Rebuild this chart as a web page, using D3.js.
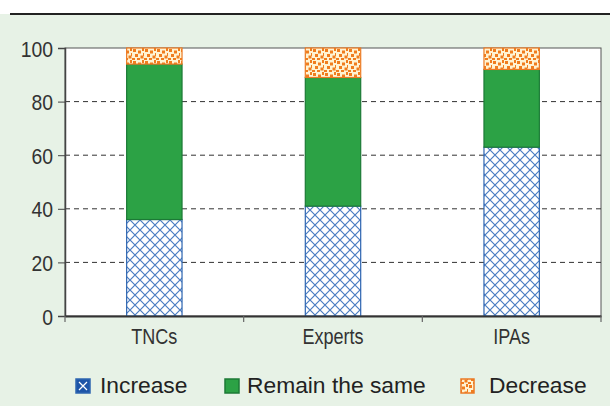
<!DOCTYPE html>
<html><head><meta charset="utf-8">
<script src="https://cdn.jsdelivr.net/npm/d3@7"></script>
<style>body{margin:0;background:#fff}svg{display:block}</style>
</head><body>
<script>
const categories = ["TNCs", "Experts", "IPAs"];
const seriesNames = ["Increase", "Remain the same", "Decrease"];
const increase = [36, 41, 63];
const remainSame = [58, 48, 29];
const decrease = [6, 11, 8];
const yTicks = [0, 20, 40, 60, 80, 100];

const W = 610, H = 406;
const regular = "'Liberation Sans', Arial, sans-serif";
const svg = d3.select("body").append("svg").attr("width", W).attr("height", H);
const defs = svg.append("defs");

// crosshatch pattern
const ph = defs.append("pattern").attr("id","hatch").attr("patternUnits","userSpaceOnUse")
  .attr("width",10).attr("height",10);
ph.append("rect").attr("width",10).attr("height",10).attr("fill","#fff");
ph.append("path").attr("d","M0,0L10,10M10,0L0,10").attr("stroke","#4a7cc2").attr("stroke-width",1.2).attr("fill","none");

// dotted orange pattern
const pd = defs.append("pattern").attr("id","dots").attr("patternUnits","userSpaceOnUse")
  .attr("width",12).attr("height",12);
pd.append("rect").attr("width",12).attr("height",12).attr("fill","#fff3d2");
[[1,1],[6,2.5],[10,0],[3,6],[8.5,7.5],[0,10],[11,5],[5,10]].forEach(([x,y])=>{
  pd.append("rect").attr("x",x).attr("y",y).attr("width",3).attr("height",3).attr("fill","#f07d1e");
});

// background
svg.append("rect").attr("x",0).attr("y",14).attr("width",W).attr("height",H-14).attr("fill","#e7f2e6");
svg.append("line").attr("x1",10).attr("x2",W).attr("y1",14).attr("y2",14).attr("stroke","#222").attr("stroke-width",2);

const m = {left:65, right:601, top:48, bottom:316};
const x = d3.scaleBand().domain(categories).range([m.left, m.right]).paddingInner(0.69).paddingOuter(0.345);
const y = d3.scaleLinear().domain([0,100]).range([m.bottom, m.top]);

svg.append("rect").attr("x",m.left).attr("y",m.top).attr("width",m.right-m.left).attr("height",m.bottom-m.top)
  .attr("fill","#fff").attr("stroke","#555").attr("stroke-width",1);

// gridlines
svg.append("g").selectAll("line").data(yTicks.filter(d=>d>0 && d<100)).join("line")
  .attr("x1",m.left).attr("x2",m.right).attr("y1",d=>y(d)).attr("y2",d=>y(d))
  .attr("stroke","#333").attr("stroke-dasharray","5,4").attr("stroke-width",1);

// bars
const data = categories.map((c,i)=>({cat:c, "Increase":increase[i], "Remain the same":remainSame[i], "Decrease":decrease[i]}));
const stack = d3.stack().keys(seriesNames)(data);
const fills = {"Increase":"url(#hatch)","Remain the same":"#2ca245","Decrease":"url(#dots)"};
const strokes = {"Increase":"#2e65b0","Remain the same":"#1c7a36","Decrease":"#ec7a24"};
stack.forEach(s=>{
  svg.append("g").selectAll("rect").data(s).join("rect")
    .attr("x",d=>x(d.data.cat)).attr("width",x.bandwidth())
    .attr("y",d=>y(d[1])).attr("height",d=>y(d[0])-y(d[1]))
    .attr("fill",fills[s.key]).attr("stroke",strokes[s.key]).attr("stroke-width",1.2);
});

function condense(sel, k){
  sel.each(function(){
    const w = this.getComputedTextLength();
    d3.select(this).attr("textLength", w*k).attr("lengthAdjust","spacingAndGlyphs");
  });
}

// axes
const ya = svg.append("g").attr("transform",`translate(${m.left},0)`)
  .call(d3.axisLeft(y).tickValues(yTicks).tickSize(7).tickPadding(5));
ya.select(".domain").attr("stroke","#444").attr("stroke-width",1.5);
ya.selectAll(".tick line").attr("stroke","#444");
ya.selectAll("text").attr("font-family",regular).attr("font-size",21.5).attr("fill","#333").attr("dy","0.38em")
  .call(condense, 0.9);

const xa = svg.append("g").attr("transform",`translate(0,${m.bottom})`)
  .call(d3.axisBottom(x).tickSize(0).tickPadding(13));
xa.select(".domain").attr("stroke","#333").attr("stroke-width",1.8);
xa.selectAll("text").attr("font-family",regular).attr("font-size",22).attr("fill","#333").attr("dy","0.68em")
  .call(condense, 0.82);
// category boundary ticks
const bounds = categories.map(c=>x(c)-x.step()*x.paddingInner()/2).concat([m.right]);
svg.append("g").selectAll("line").data(bounds).join("line")
  .attr("x1",d=>d).attr("x2",d=>d).attr("y1",m.bottom).attr("y2",m.bottom+6)
  .attr("stroke","#666").attr("stroke-width",1.2);

// legend
const legX = [76, 225, 461];
const textX = [100, 247, 489];
const leg = svg.append("g");
seriesNames.forEach((n,i)=>{
  const g = leg.append("g");
  g.append("rect").attr("x",legX[i]).attr("y",379).attr("width",i===2?13:14).attr("height",14)
    .attr("fill", i===0 ? "#1d55a8" : fills[n]).attr("stroke",strokes[n]).attr("stroke-width",1.5);
  if(i===0){
    g.append("path").attr("transform",`translate(${legX[i]},379)`).attr("d","M3,3L11,11M11,3L3,11").attr("stroke","#fff").attr("stroke-width",1.2);
  }
  g.append("text").attr("x", textX[i]).attr("y",393).text(n)
    .attr("font-family",regular).attr("font-size",22.8).attr("fill","#222");
});
</script>
</body></html>
